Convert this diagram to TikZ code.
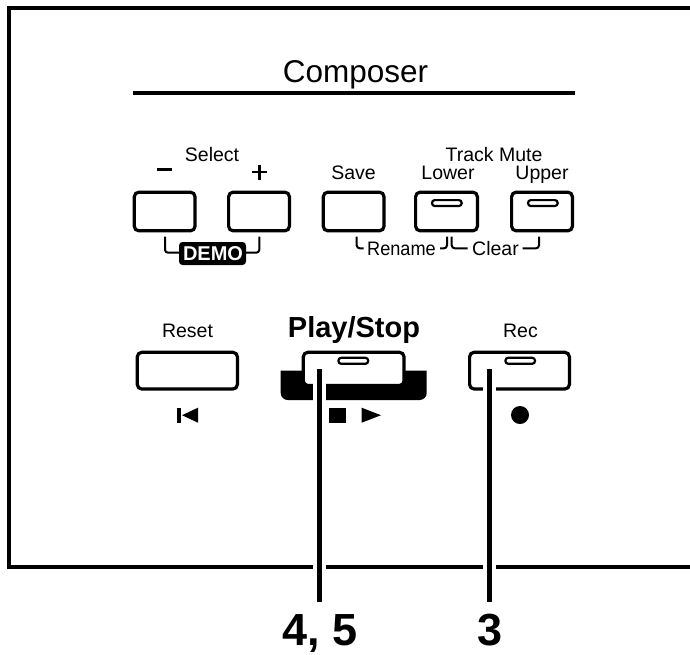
\documentclass[tikz,border=0pt]{standalone}
\usepackage{fontspec}
\usepackage{graphicx}
\setmainfont{Liberation Sans}
\tikzset{
  btn/.style={draw=black,line width=3.2pt,rounded corners=4.5pt,fill=white},
  led/.style={draw=black,line width=2.2pt,rounded corners=2.8pt,fill=white},
  brk/.style={draw=black,line width=2pt,rounded corners=3pt},
  lab/.style={inner sep=0pt,anchor=base,font=\fontsize{19.5}{24}\selectfont},
  halo/.style={draw=white,line width=13pt},
  pointer/.style={draw=black,line width=5.3pt},
  num/.style={inner sep=0pt,anchor=base,font=\fontsize{45}{50}\selectfont\bfseries}
}
\begin{document}
\begin{tikzpicture}[x=1pt,y=-1pt]
\useasboundingbox (0,0) rectangle (690,654);
% panel
\draw[line width=4pt] (690,8) -- (9,8) -- (9,567) -- (690,567);
% title
\node[lab,font=\fontsize{31.5}{36}\selectfont] (title) at (355.5,82) {Composer};
\draw[line width=3.6pt] (133,93) -- (575,93);
% top row
\node[lab] (select) at (212,161) {Select};
\draw[line width=2.2pt] (157,169.5) -- (172,169.5);
\draw[line width=2.2pt] (252,172) -- (267,172) (259.5,164.5) -- (259.5,179.5);
\node[lab] (save) at (353.5,179) {Save};
\node[lab] (track) at (494,161) {Track Mute};
\node[lab] (lower) at (448,179) {Lower};
\node[lab] (upper) at (542,179) {Upper};
\draw[btn] (134.3,192.2) rectangle (195,230.8);
\draw[btn] (228.6,192.2) rectangle (289.4,230.8);
\draw[btn] (323.3,192.2) rectangle (384,230.8);
\draw[btn] (415.6,192.2) rectangle (477.4,230.8);
\draw[btn] (511.6,192.2) rectangle (572.4,230.8);
\draw[led] (432,200.1) rectangle (461.7,206);
\draw[led] (528,200.1) rectangle (557.7,206);
% brackets
\draw[brk] (165,236.7) -- (165,252.7) -- (184,252.7);
\draw[brk] (259.3,236.7) -- (259.3,252.7) -- (240,252.7);
\node[fill=black,rounded corners=3.5pt,inner sep=0pt,minimum width=67pt,minimum height=23pt] (demobox) at (212.5,253.5) {};
\node[lab,white,font=\fontsize{20}{24}\selectfont\bfseries] (demo) at (213,260.5) {DEMO};
\draw[brk] (356.7,236.7) -- (356.7,248.3) -- (363.5,248.3);
\node[lab] (rename) at (401.5,255) {\scalebox{.93}[1]{Rename}};
\draw[brk] (447,236.7) -- (447,248.3) -- (440,248.3);
\draw[brk] (451.7,236.7) -- (451.7,248.3) -- (467.5,248.3);
\node[lab] (clear) at (495.5,255) {Clear};
\draw[brk] (539,236.7) -- (539,248.3) -- (522.7,248.3);
% bottom row
\node[lab] (reset) at (187.5,337) {Reset};
\draw[btn] (137.3,352.3) rectangle (237.4,389);
\fill (177.3,407.7) rectangle (180.7,422.7);
\fill (182,415.2) -- (198,407.7) -- (198,422.7) -- cycle;
% play/stop
\node[lab,font=\fontsize{29}{33}\selectfont\bfseries] (play) at (354,337.5) {Play/Stop};
\fill[sharp corners] (280.7,370.7) -- (426.7,370.7) [rounded corners=7pt] -- (426.7,400) -- (280.7,400) [sharp corners] -- cycle;
\draw[btn] (303.3,352.3) rectangle (404,385.5);
\draw[led] (338.4,357.8) rectangle (368.2,363.8);
\fill (329.3,407.7) rectangle (345.7,422.7);
\fill (361.7,407.7) -- (381,415.2) -- (361.7,422.7) -- cycle;
% rec
\node[lab] (rec) at (520.5,337) {Rec};
\draw[btn] (469.6,352.3) rectangle (569.4,389);
\draw[led] (505.4,357.8) rectangle (535,363.8);
\fill (520,415) circle (9);
% pointers
\coordinate (p4a) at (319.3,369.3);
\coordinate (p4b) at (319.3,602);
\coordinate (p3a) at (489.7,369.3);
\coordinate (p3b) at (489.7,602);
\draw[halo] (p4a) -- (p4b);
\draw[halo] (p3a) -- (p3b);
\draw[pointer] (p4a) -- (p4b);
\draw[pointer] (p3a) -- (p3b);
\node[num] (n45) at (320,645) {4, 5};
\node[num] (n3) at (490,645) {3};
\end{tikzpicture}
\end{document}
